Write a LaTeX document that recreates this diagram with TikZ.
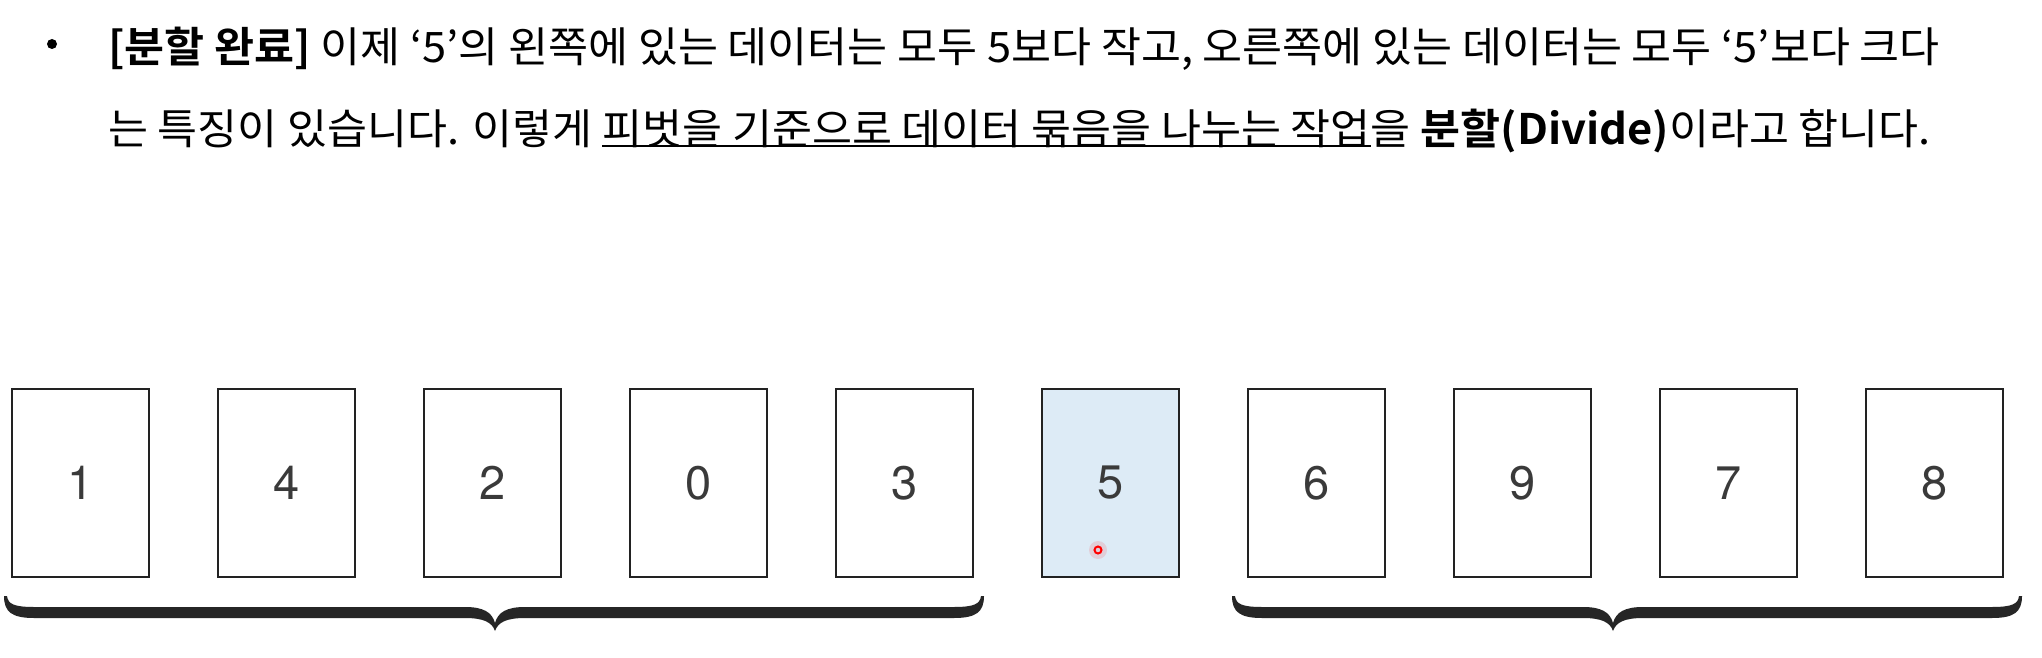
\documentclass[tikz,border=0pt]{standalone}
\usepackage{fontspec}
\setmainfont{Noto Sans CJK KR}[BoldFont={Noto Sans CJK KR Bold}, FakeStretch=1.035]
\newfontfamily\digitfont{TeX Gyre Heros}
\definecolor{boxline}{HTML}{222222}
\definecolor{digitgray}{HTML}{3A3A3A}
\definecolor{pivotfill}{HTML}{DDEBF6}
\definecolor{bracecol}{HTML}{262626}
\newcommand\myul[1]{\setbox0\hbox{#1}\rlap{\rule[-3pt]{\wd0}{2.2pt}}\box0}
\newcommand\mybrace[3]{%
  \fill[bracecol] (#1,596) .. controls (#1,612) and ({#1+8},618) .. ({#1+30},618)
    -- ({#2-30},618) .. controls ({#2-12},618) and ({#2-3},622) .. (#2,631)
    .. controls ({#2+3},622) and ({#2+12},618) .. ({#2+30},618)
    -- ({#3-30},618) .. controls ({#3-8},618) and (#3,612) .. (#3,596)
    -- ({#3-3},596) .. controls ({#3-4},604) and ({#3-10},607) .. ({#3-30},607)
    -- ({#2+30},607) .. controls ({#2+12},607) and ({#2+3},612) .. (#2,623)
    .. controls ({#2-3},612) and ({#2-12},607) .. ({#2-30},607)
    -- ({#1+30},607) .. controls ({#1+10},607) and ({#1+4},604) .. ({#1+3},596) -- cycle;}
\begin{document}
\begin{tikzpicture}[x=1pt,y=-1pt,
  card/.style={draw=boxline, line width=2.5pt, minimum width=137pt, minimum height=188pt,
    inner sep=0pt, text=digitgray, font=\digitfont\fontsize{47}{50}\selectfont},
  pivot/.style={card, fill=pivotfill},
  textline/.style={anchor=base west, inner sep=0pt, font=\fontsize{42}{50}\selectfont, text=black}]
\useasboundingbox (0,0) rectangle (2042,658);
\fill[white] (0,0) rectangle (2042,658);
% bullet
\fill[black] (52,44) circle (5);
\node[textline] (l1) at (108,63) {\textbf{[분할 완료]} 이제 ‘5’의 왼쪽에 있는 데이터는 모두 5보다 작고, 오른쪽에 있는 데이터는 모두 ‘5’보다 크다};
\node[textline] (l2) at (108,144) {는 특징이 있습니다. 이렇게 \myul{피벗을 기준으로 데이터 묶음을 나누는 작업}을 \textbf{분할(Divide)}이라고 합니다.};
% cards
\node[card] (c1) at (80.5,483) {1};
\node[card] (c2) at (286.5,483) {4};
\node[card] (c3) at (492.5,483) {2};
\node[card] (c4) at (698.5,483) {0};
\node[card] (c5) at (904.5,483) {3};
\node[pivot] (c6) at (1110.5,483) {5};
\node[card] (c7) at (1316.5,483) {6};
\node[card] (c8) at (1522.5,483) {9};
\node[card] (c9) at (1728.5,483) {7};
\node[card] (c10) at (1934.5,483) {8};
% pointer dot
\fill[red, opacity=0.12] (1098,550) circle (9);
\draw[red, line width=2pt] (1098,550) circle (3.5);
% braces
\mybrace{4}{495}{984}
\mybrace{1232}{1613}{2022}
\end{tikzpicture}
\end{document}
